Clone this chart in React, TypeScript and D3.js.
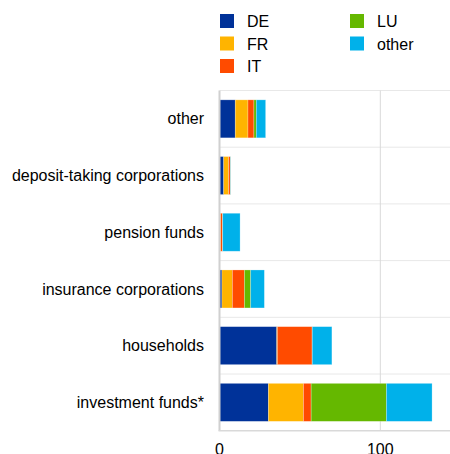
import React from "react";
import * as d3 from "d3";

const categories = [
  "other",
  "deposit-taking corporations",
  "pension funds",
  "insurance corporations",
  "households",
  "investment funds*",
];
const seriesNames = ["DE", "FR", "IT", "LU", "other"];
const colors = ["#003299", "#FFB400", "#FF4B00", "#65B800", "#00B1EA"];
const DE = [9.8, 2.6, 0.3, 1.5, 35.6, 30.4];
const FR = [7.9, 3.1, 0.4, 6.5, 0.4, 21.8];
const IT = [3.7, 1.0, 1.2, 7.5, 21.6, 4.8];
const LU = [1.5, 0.1, 0.1, 3.9, 0.1, 46.8];
const OTHER = [5.8, 0.2, 10.8, 8.5, 12.2, 28.4];
const xTicks = [0, 100];

const W = 450;
const H = 454;
const left = 219.5;
const top = 90.5;
const bottom = 430.7;

export default function App() {
  const values = [DE, FR, IT, LU, OTHER];
  const rows = categories.map((c, i) => {
    const r: any = { cat: c };
    seriesNames.forEach((s, j) => (r[s] = values[j][i]));
    return r;
  });
  const stack = d3.stack().keys(seriesNames)(rows);
  const x = d3.scaleLinear().domain([0, 100]).range([left, 380.3]);
  const y = d3
    .scaleBand()
    .domain(categories)
    .range([top, bottom])
    .paddingInner(0.33)
    .paddingOuter(0.165);
  const step = (bottom - top) / categories.length;
  const font = "'Liberation Sans', Arial, sans-serif";

  return (
    <svg
      width={W}
      height={H}
      style={{ position: "absolute", left: 0, top: 0, background: "#fff" }}
      fontFamily={font}
    >
      {d3.range(categories.length).map((i) => (
        <line
          key={"h" + i}
          x1={left}
          x2={W}
          y1={top + i * step}
          y2={top + i * step}
          stroke="#e8e8e8"
          strokeWidth={1}
        />
      ))}
      {xTicks
        .filter((t) => t > 0)
        .map((t) => (
          <line
            key={"v" + t}
            x1={x(t)}
            x2={x(t)}
            y1={top}
            y2={bottom}
            stroke="#d9d9d9"
            strokeWidth={1}
          />
        ))}
      {stack.map((layer, j) => (
        <g key={layer.key} fill={colors[j]}>
          {layer.map((d, i) => (
            <rect
              key={i}
              x={x(d[0])}
              y={y(categories[i])}
              width={Math.max(0, x(d[1]) - x(d[0]))}
              height={y.bandwidth()}
              stroke="#fff"
              strokeOpacity={0.35}
              strokeWidth={0.7}
            />
          ))}
        </g>
      ))}
      <line x1={left} x2={left} y1={top} y2={bottom} stroke="#d0d0d0" strokeWidth={2} />
      <line x1={left - 1} x2={W} y1={bottom} y2={bottom} stroke="#d9d9d9" strokeWidth={1.5} />
      {categories.map((c) => (
        <text
          key={c}
          x={204}
          y={(y(c) as number) + y.bandwidth() / 2}
          dy="0.35em"
          textAnchor="end"
          fontSize={16}
          fill="#000"
        >
          {c}
        </text>
      ))}
      {xTicks.map((t) => (
        <text key={"t" + t} x={x(t)} y={455} textAnchor="middle" fontSize={16} fill="#000">
          {t}
        </text>
      ))}
      {seriesNames.map((s, j) => {
        const col = j < 3 ? 0 : 1;
        const row = j < 3 ? j : j - 3;
        const lx = col === 0 ? 220 : 350;
        const ly = 14 + row * 22.5;
        return (
          <g key={"l" + s}>
            <rect x={lx} y={ly} width={14} height={14} fill={colors[j]} />
            <text x={lx + 27} y={ly + 13} fontSize={16} fill="#000">
              {s}
            </text>
          </g>
        );
      })}
    </svg>
  );
}
